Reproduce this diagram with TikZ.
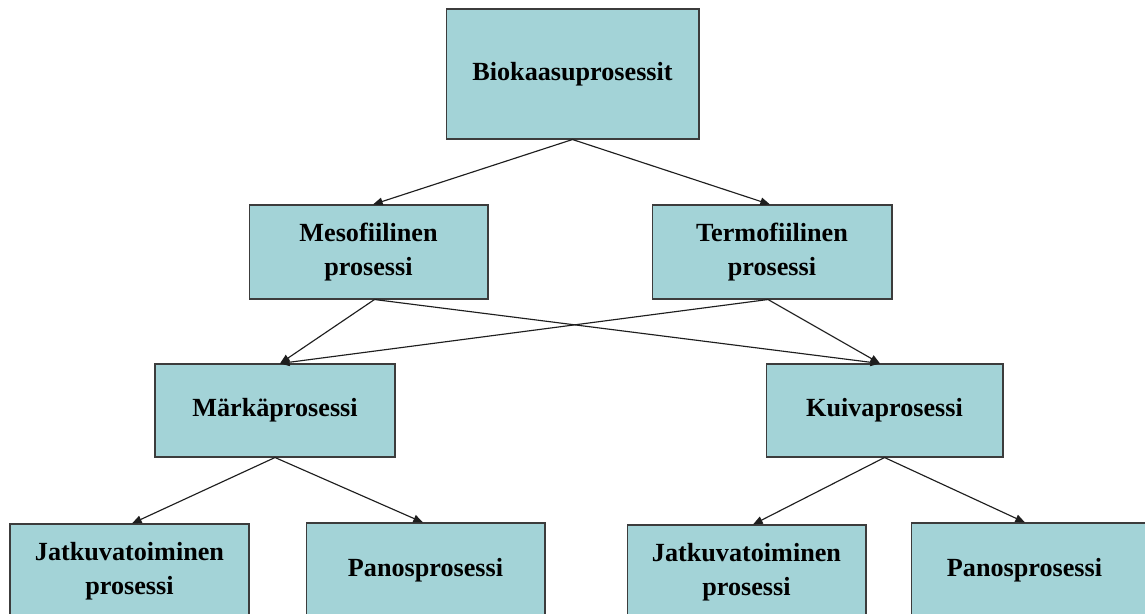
\documentclass[tikz,border=0pt]{standalone}
\usepackage{fontspec}
\setmainfont{Liberation Serif}
\usetikzlibrary{arrows.meta,calc}
\definecolor{boxfill}{RGB}{163,211,215}
\definecolor{boxline}{RGB}{60,60,60}
\definecolor{linkcol}{RGB}{30,30,30}
\begin{document}
\begin{tikzpicture}[x=0.02cm,y=-0.02cm,
  procbox/.style={draw=boxline,line width=0.6pt,fill=boxfill,inner sep=0pt,
    align=center,font=\fontsize{14.9}{19.5}\selectfont\bfseries,
    minimum width=4.78cm,minimum height=1.88cm},
  link/.style={draw=linkcol,line width=0.65pt,-{Triangle[length=5.5pt,width=4.4pt]}}]
  % page frame: everything outside is cut away
  \clip (0,0) rectangle (1145,614);
  \fill[white] (0,0) rectangle (1145,614);

  % hierarchy of biogas processes
  \node[procbox,minimum width=5.06cm,minimum height=2.6cm] (bio) at (572.5,74) {Biokaasuprosessit};
  \node[procbox] (meso)  at (368.5,252) {Mesofiilinen\\prosessi};
  \node[procbox,minimum width=4.8cm] (termo) at (772,252) {Termofiilinen\\prosessi};
  \node[procbox,minimum width=4.8cm,minimum height=1.86cm] (wet) at (275,410.5) {Märkäprosessi};
  \node[procbox,minimum width=4.74cm,minimum height=1.86cm] (dry) at (884.5,410.5) {Kuivaprosessi};
  \node[procbox] (contA)  at (129.5,571) {Jatkuvatoiminen\\prosessi};
  \node[procbox] (batchA) at (425.5,570) {Panosprosessi};
  \node[procbox] (contB)  at (746.5,572) {Jatkuvatoiminen\\prosessi};
  % this box runs past the right edge of the page
  \node[procbox] (batchB) at (1030.5,570) {Panosprosessi\hspace*{0.24cm}};

  % connectors
  \draw[link] (bio.south) -- ($(meso.north)+(4.5,0)$);
  \draw[link] (bio.south) -- ($(termo.north)+(-2,0)$);
  \draw[link] ($(meso.south)+(6,0)$) -- ($(wet.north)+(5,0)$);
  \draw[link] ($(meso.south)+(6,0)$) -- ($(dry.north)+(-4.5,0)$);
  \draw[link] ($(termo.south)+(-4,0)$) -- ($(wet.north)+(5,0)$);
  \draw[link] ($(termo.south)+(-4,0)$) -- ($(dry.north)+(-4.5,0)$);
  \draw[link] (wet.south) -- ($(contA.north)+(2.5,0)$);
  \draw[link] (wet.south) -- ($(batchA.north)+(-2.5,0)$);
  \draw[link] (dry.south) -- ($(contB.north)+(6.5,0)$);
  \draw[link] (dry.south) -- ($(batchB.north)+(-5.5,0)$);
\end{tikzpicture}
\end{document}
